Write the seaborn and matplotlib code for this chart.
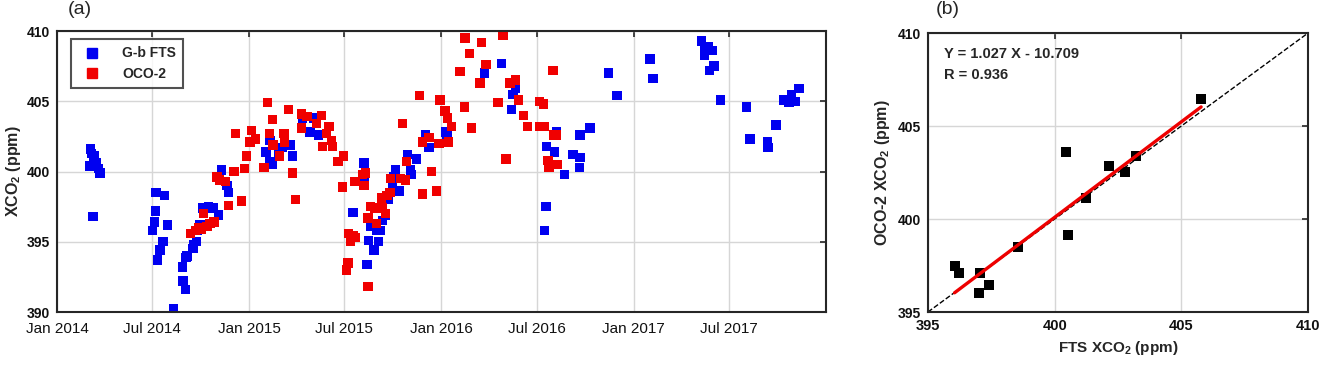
import numpy as np
import pandas as pd
import seaborn as sns
import matplotlib.pyplot as plt
import matplotlib.dates as mdates
from matplotlib.lines import Line2D

# ---- data ----
fts_dates = [
    "2014-03-06", "2014-03-08", "2014-03-12", "2014-03-05", "2014-03-16", "2014-03-21", "2014-03-24", "2014-03-10",
    "2014-07-01", "2014-07-05", "2014-07-07", "2014-07-08", "2014-07-24", "2014-07-30", "2014-07-21", "2014-07-16",
    "2014-07-11", "2014-08-10", "2014-08-27", "2014-08-28", "2014-09-02", "2014-09-03", "2014-09-05", "2014-09-16",
    "2014-09-17", "2014-09-23", "2014-09-24", "2014-09-30", "2014-10-05", "2014-10-16", "2014-10-24", "2014-11-04",
    "2014-11-09", "2014-11-20", "2014-11-23", "2015-02-02", "2015-02-10", "2015-02-10", "2015-02-14", "2015-02-26",
    "2015-03-05", "2015-03-20", "2015-03-24", "2015-04-12", "2015-04-27", "2015-05-03", "2015-05-13", "2015-07-17",
    "2015-08-07", "2015-08-07", "2015-08-13", "2015-08-16", "2015-08-20", "2015-08-26", "2015-09-01", "2015-09-04",
    "2015-09-08", "2015-09-11", "2015-09-17", "2015-09-23", "2015-09-30", "2015-10-03", "2015-10-06", "2015-10-13",
    "2015-10-29", "2015-11-04", "2015-11-06", "2015-11-15", "2015-12-02", "2015-12-09", "2016-01-10", "2016-01-12",
    "2016-03-23", "2016-04-24", "2016-05-16", "2016-05-21", "2016-05-14", "2016-07-15", "2016-07-18", "2016-07-19",
    "2016-08-03", "2016-08-07", "2016-08-22", "2016-09-07", "2016-09-20", "2016-09-21", "2016-09-21", "2016-10-10",
    "2016-11-14", "2016-11-30", "2017-02-01", "2017-02-06", "2017-05-09", "2017-05-15", "2017-05-22", "2017-05-30",
    "2017-05-15", "2017-06-02", "2017-05-25", "2017-06-15", "2017-08-03", "2017-08-10", "2017-09-12", "2017-09-13",
    "2017-09-28", "2017-10-12", "2017-10-23", "2017-10-27", "2017-11-03", "2017-11-11",
]
fts_xco2 = [
    401.6, 401.3, 401.1, 400.4, 400.6, 400.2, 399.9, 396.8,
    395.8, 396.4, 397.2, 398.5, 398.3, 396.2, 395.0, 394.4,
    393.7, 390.2, 393.2, 392.2, 391.6, 393.9, 394.0, 394.5,
    394.8, 395.0, 395.8, 396.2, 397.4, 397.5, 397.4, 396.9,
    400.1, 399.0, 398.5, 401.4, 402.2, 400.7, 400.5, 401.3,
    401.7, 401.9, 401.1, 403.8, 402.8, 403.8, 402.6, 397.1,
    400.6, 399.2, 393.4, 395.1, 396.1, 394.4, 395.8, 395.0,
    395.8, 396.5, 396.9, 398.0, 398.9, 399.6, 400.1, 398.6,
    401.2, 400.1, 399.8, 400.9, 402.6, 401.7, 402.8, 402.6,
    407.0, 407.7, 405.5, 405.9, 404.4, 395.8, 397.5, 401.8,
    401.4, 402.8, 399.8, 401.2, 400.3, 401.0, 402.6, 403.1,
    407.0, 405.4, 408.0, 406.6, 409.3, 408.9, 408.9, 408.6,
    408.3, 407.5, 407.2, 405.1, 404.6, 402.3, 402.1, 401.7,
    403.3, 405.1, 404.9, 405.5, 405.0, 405.9,
]

oco_dates = [
    "2014-09-12", "2014-09-21", "2014-09-27", "2014-10-03", "2014-10-06", "2014-10-13", "2014-10-19", "2014-10-26",
    "2014-11-01", "2014-11-06", "2014-11-17", "2014-11-23", "2014-12-03", "2014-12-06", "2014-12-17", "2014-12-23",
    "2014-12-27", "2015-01-03", "2015-01-06", "2015-01-13", "2015-01-29", "2015-02-05", "2015-02-09", "2015-02-14",
    "2015-02-15", "2015-02-28", "2015-03-08", "2015-03-09", "2015-03-17", "2015-03-24", "2015-03-30", "2015-04-10",
    "2015-04-10", "2015-04-21", "2015-05-09", "2015-05-18", "2015-05-20", "2015-05-28", "2015-06-02", "2015-06-06",
    "2015-06-08", "2015-06-19", "2015-06-27", "2015-06-29", "2015-07-05", "2015-07-08", "2015-07-09", "2015-07-13",
    "2015-07-17", "2015-07-21", "2015-07-21", "2015-08-04", "2015-08-07", "2015-08-10", "2015-08-15", "2015-08-15",
    "2015-08-20", "2015-08-28", "2015-08-31", "2015-09-10", "2015-09-11", "2015-09-17", "2015-09-20", "2015-09-26",
    "2015-09-27", "2015-10-16", "2015-10-19", "2015-10-25", "2015-10-27", "2015-11-21", "2015-11-26", "2015-11-26",
    "2015-12-09", "2015-12-14", "2015-12-23", "2015-12-28", "2015-12-30", "2016-01-08", "2016-01-13", "2016-01-15",
    "2016-01-21", "2016-02-06", "2016-02-14", "2016-02-15", "2016-02-24", "2016-02-28", "2016-03-15", "2016-03-17",
    "2016-03-26", "2016-04-18", "2016-04-27", "2016-05-03", "2016-05-11", "2016-05-21", "2016-05-27", "2016-06-05",
    "2016-06-13", "2016-07-06", "2016-07-07", "2016-07-13", "2016-07-15", "2016-07-22", "2016-07-24", "2016-07-31",
    "2016-08-01", "2016-08-07", "2016-08-09",
]
oco_xco2 = [
    395.6, 395.8, 396.0, 395.9, 397.0, 396.1, 396.3, 396.4,
    399.6, 399.4, 399.3, 397.6, 400.0, 402.7, 397.9, 400.2,
    401.1, 402.1, 402.9, 402.3, 400.3, 404.9, 402.7, 403.7,
    401.9, 401.1, 402.7, 402.1, 404.4, 399.9, 398.0, 404.1,
    403.1, 403.9, 403.4, 404.0, 401.8, 402.7, 403.2, 402.2,
    401.8, 400.7, 398.9, 401.1, 393.0, 393.5, 395.6, 395.0,
    395.4, 395.3, 399.3, 399.8, 399.0, 399.9, 396.7, 391.8,
    397.5, 397.4, 396.3, 398.1, 397.4, 397.0, 398.3, 398.5,
    399.5, 399.5, 403.4, 399.4, 400.7, 405.4, 398.4, 402.1,
    402.4, 400.0, 398.6, 402.0, 405.1, 404.3, 403.8, 402.1,
    403.2, 407.1, 404.6, 409.5, 408.4, 403.1, 406.3, 409.2,
    407.6, 404.9, 409.7, 400.9, 406.3, 406.5, 405.1, 404.0,
    403.2, 405.0, 403.2, 404.8, 403.2, 400.8, 400.3, 407.2,
    402.6, 402.6, 400.5,
]

# coincident pairs (panel b)
match_fts = [396.05, 396.21, 397.07, 397.03, 397.41, 398.54, 400.45, 400.53, 401.24, 402.14, 402.79, 403.21, 405.78]
match_oco = [397.45, 397.10, 397.10, 396.00, 396.45, 398.50, 403.60, 399.12, 401.13, 402.83, 402.54, 403.40, 406.45]
slope, intercept, r_value = 1.027, -10.709, 0.936

date_ticks = pd.date_range('2014-01-01', '2017-07-01', freq='6MS')

# ---- style ----
sns.set_style("white")
plt.rcParams['font.family'] = ['Liberation Sans', 'DejaVu Sans']
plt.rcParams['mathtext.fontset'] = 'custom'
plt.rcParams['mathtext.rm'] = 'Liberation Sans'
plt.rcParams['mathtext.bf'] = 'Liberation Sans:bold'

BLUE = '#0000f0'
RED = '#f00000'
SPINE = '#262626'

df_ts = pd.concat([
    pd.DataFrame({'date': pd.to_datetime(fts_dates), 'xco2': fts_xco2, 'source': 'G-b FTS'}),
    pd.DataFrame({'date': pd.to_datetime(oco_dates), 'xco2': oco_xco2, 'source': 'OCO-2'}),
], ignore_index=True)
df_match = pd.DataFrame({'fts': match_fts, 'oco': match_oco})

fig = plt.figure(figsize=(13.23, 3.66), dpi=100)
ax1 = fig.add_axes([0.0431, 0.1475, 0.5812, 0.7678])
ax2 = fig.add_axes([0.7014, 0.1475, 0.2873, 0.7623])


def matlab_axes(ax):
    for sp in ax.spines.values():
        sp.set_color(SPINE)
        sp.set_linewidth(1.5)
        sp.set_visible(True)
    ax.tick_params(direction='in', top=True, right=True, length=4, width=1.2,
                   color=SPINE, labelsize=10, pad=5, labelcolor='#111111')
    ax.grid(True, color='#d6d6d6', linewidth=1.0)
    ax.set_axisbelow(True)


# ---- panel (a): time series ----
sns.scatterplot(data=df_ts, x='date', y='xco2', hue='source',
                palette={'G-b FTS': BLUE, 'OCO-2': RED}, marker='s', s=46,
                linewidth=0, ax=ax1, legend=False)
ax1.set_xlim(pd.Timestamp('2014-01-01'), pd.Timestamp('2018-01-01'))
ax1.set_ylim(390, 410)
ax1.set_yticks([390, 395, 400, 405, 410])
ax1.set_xticks(date_ticks)
ax1.xaxis.set_major_formatter(mdates.DateFormatter('%b %Y'))
matlab_axes(ax1)
ax1.tick_params(axis='x', labelsize=11, pad=7)
for lab in ax1.get_yticklabels():
    lab.set_fontweight('bold')
ax1.set_xlabel('')
ax1.set_ylabel(r'XCO$_\mathbf{2}$ (ppm)', fontsize=11.5, fontweight='bold', labelpad=3)

handles = [Line2D([], [], marker='s', ls='', color=BLUE, markersize=7.5),
           Line2D([], [], marker='s', ls='', color=RED, markersize=7.5)]
leg = ax1.legend(handles, ['G-b FTS', 'OCO-2'], loc='upper left',
                 bbox_to_anchor=(0.018, 0.97), frameon=True, fancybox=False,
                 prop={'weight': 'bold', 'size': 10}, handletextpad=1.2,
                 borderpad=0.5, labelspacing=0.5, borderaxespad=0)
leg.get_frame().set_edgecolor(SPINE)
leg.get_frame().set_linewidth(1.5)

# ---- panel (b): scatter ----
sns.lineplot(x=[395, 410], y=[395, 410], color='black', linestyle='--',
             linewidth=1.0, ax=ax2)
sns.scatterplot(data=df_match, x='fts', y='oco', color='black', marker='s',
                s=46, linewidth=0, ax=ax2, zorder=3)
fit_x = np.array([min(match_fts), max(match_fts)])
sns.lineplot(x=fit_x, y=slope * fit_x + intercept, color='#ee0000',
             linewidth=2.4, ax=ax2, zorder=4)
ax2.set_xlim(395, 410)
ax2.set_ylim(395, 410)
ax2.set_xticks([395, 400, 405, 410])
ax2.set_yticks([395, 400, 405, 410])
matlab_axes(ax2)
ax2.tick_params(axis='x', labelsize=10.5)
for lab in ax2.get_xticklabels() + ax2.get_yticklabels():
    lab.set_fontweight('bold')
ax2.set_xlabel(r'FTS XCO$_\mathbf{2}$ (ppm)', fontsize=11, fontweight='bold', labelpad=4)
ax2.set_ylabel(r'OCO-2 XCO$_\mathbf{2}$ (ppm)', fontsize=11.5, fontweight='bold', labelpad=4)
ax2.text(0.042, 0.925, f'Y = {slope:.3f} X - {abs(intercept):.3f}', transform=ax2.transAxes,
         fontsize=10.5, fontweight='bold', va='center')
ax2.text(0.042, 0.85, f'R = {r_value:.3f}', transform=ax2.transAxes,
         fontsize=10.5, fontweight='bold', va='center')

fig.text(0.0605, 0.998, '(a)', fontsize=14, ha='center', va='top')
fig.text(0.7166, 0.998, '(b)', fontsize=14, ha='center', va='top')

fig.savefig('out.png', dpi=100)
